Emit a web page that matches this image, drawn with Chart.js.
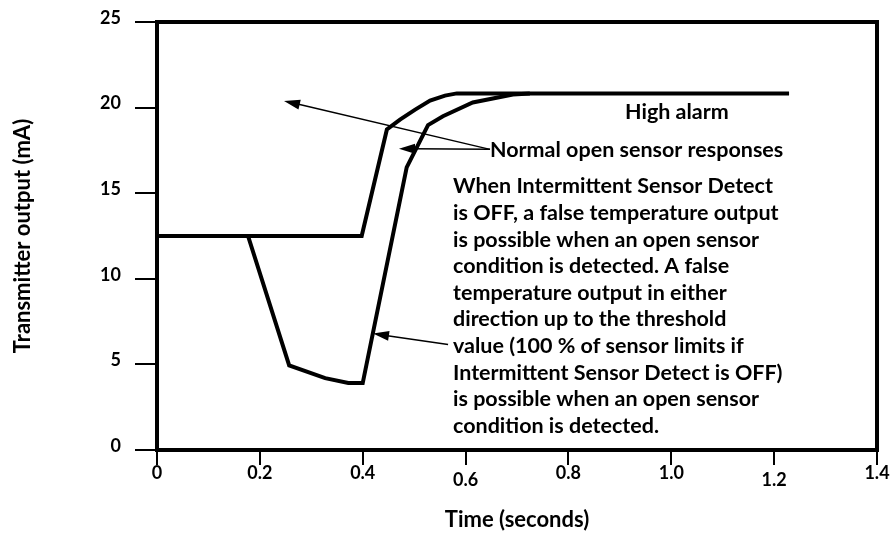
<!DOCTYPE html>
<html>
<head>
<meta charset="utf-8">
<script src="https://cdn.jsdelivr.net/npm/chart.js@4.4.1/dist/chart.umd.min.js"></script>
<style>
  html, body { margin: 0; padding: 0; background: #fff; }
</style>
</head>
<body>
<canvas id="openSensor" width="891" height="533"></canvas>
<script>
// values (time in s, output in mA)
const normalTime   = [0, 0.398, 0.447, 0.4725, 0.502, 0.531, 0.56, 0.583, 1.229];
const normalOutput = [12.5, 12.5, 18.72, 19.3, 19.88, 20.41, 20.7, 20.83, 20.83];

const falseTime   = [0, 0.177, 0.257, 0.327, 0.372, 0.40, 0.4855, 0.527, 0.556, 0.614, 0.692, 0.725];
const falseOutput = [12.5, 12.5, 4.94, 4.2, 3.91, 3.91, 16.51, 18.98, 19.5, 20.3, 20.76, 20.83];

const xTicks = [0, 0.2, 0.4, 0.6, 0.8, 1.0, 1.2, 1.4];
const xTickLabels = ['0', '0.2', '0.4', '0.6', '0.8', '1.0', '1.2', '1.4'];
const yTicks = [0, 5, 10, 15, 20, 25];

const note = [
  'When Intermittent Sensor Detect',
  'is OFF, a false temperature output',
  'is possible when an open sensor',
  'condition is detected. A false',
  'temperature output in either',
  'direction up to the threshold',
  'value (100 % of sensor limits if',
  'Intermittent Sensor Detect is OFF)',
  'is possible when an open sensor',
  'condition is detected.'
];

const toXY = (xs, ys) => xs.map((x, i) => ({ x: x, y: ys[i] }));

const FONT = 'Lato';

function arrow(ctx, x1, y1, x2, y2) {
  const a = Math.atan2(y2 - y1, x2 - x1);
  const len = 16, half = 5;
  ctx.beginPath();
  ctx.moveTo(x1, y1);
  ctx.lineTo(x2 - Math.cos(a) * len * 0.8, y2 - Math.sin(a) * len * 0.8);
  ctx.stroke();
  ctx.beginPath();
  ctx.moveTo(x2, y2);
  ctx.lineTo(x2 - Math.cos(a) * len + Math.sin(a) * half, y2 - Math.sin(a) * len - Math.cos(a) * half);
  ctx.lineTo(x2 - Math.cos(a) * len - Math.sin(a) * half, y2 - Math.sin(a) * len + Math.cos(a) * half);
  ctx.closePath();
  ctx.fill();
}

const extras = {
  id: 'extras',
  afterDatasetsDraw(chart) {
    const ctx = chart.ctx;
    const a = chart.chartArea;
    const sx = chart.scales.x, sy = chart.scales.y;
    const px = v => sx.getPixelForValue(v), py = v => sy.getPixelForValue(v);
    ctx.save();
    // frame top + right
    ctx.strokeStyle = '#000';
    ctx.lineWidth = 4;
    ctx.beginPath();
    ctx.moveTo(a.left - 2, a.top);
    ctx.lineTo(a.right, a.top);
    ctx.lineTo(a.right, a.bottom + 2);
    ctx.stroke();

    // arrows
    ctx.lineWidth = 1.5;
    ctx.fillStyle = '#000';
    arrow(ctx, px(0.6475), py(17.56), px(0.247), py(20.39));
    arrow(ctx, px(0.6475), py(17.56), px(0.4705), py(17.6));
    arrow(ctx, px(0.566), py(6.16), px(0.42), py(6.8));

    // texts
    ctx.font = 'bold 21.5px ' + FONT;
    ctx.textAlign = 'left';
    ctx.textBaseline = 'alphabetic';
    ctx.fillText('High alarm', 625, 119);
    ctx.fillText('Normal open sensor responses', 490, 157);
    note.forEach((t, i) => ctx.fillText(t, 453, 193.3 + i * 26.6));
    ctx.restore();
  }
};

new Chart(document.getElementById('openSensor'), {
  type: 'line',
  data: {
    datasets: [
      { data: toXY(normalTime, normalOutput), borderColor: '#000', borderWidth: 4, pointRadius: 0, tension: 0, borderJoinStyle: 'miter' },
      { data: toXY(falseTime, falseOutput), borderColor: '#000', borderWidth: 4, pointRadius: 0, tension: 0, borderJoinStyle: 'miter' }
    ]
  },
  options: {
    responsive: false,
    animation: false,
    layout: { padding: { top: 20, right: 14, left: 0, bottom: 0 } },
    plugins: { legend: { display: false }, tooltip: { enabled: false } },
    scales: {
      x: {
        type: 'linear', min: 0, max: 1.4,
        afterBuildTicks: s => { s.ticks = xTicks.map(v => ({ value: v })); },
        afterFit: s => { s.height = 83; },
        grid: { drawOnChartArea: false, color: '#000', lineWidth: 2, tickLength: 15 },
        border: { color: '#000', width: 4 },
        ticks: {
          color: '#000', padding: 0, maxRotation: 0, autoSkip: false,
          callback: (v, i) => xTickLabels[i],
          font: c => ({ family: FONT, weight: 'bold', size: 18, lineHeight: (c.index === 3 || c.index === 6) ? '30px' : '17px' })
        },
        title: { display: true, text: 'Time (seconds)', color: '#000', font: { family: FONT, weight: 'bold', size: 22 }, padding: { top: 0, bottom: 0 } }
      },
      y: {
        min: 0, max: 25,
        afterBuildTicks: s => { s.ticks = yTicks.map(v => ({ value: v })); },
        afterFit: s => { s.width = 157; },
        grid: { drawOnChartArea: false, color: '#000', lineWidth: 2, tickLength: 22 },
        border: { color: '#000', width: 4 },
        ticks: {
          color: '#000', padding: 14,
          callback: v => [String(v), ''],
          font: { family: FONT, weight: 'bold', size: 18, lineHeight: '8px' }
        },
        title: { display: true, text: 'Transmitter output (mA)', color: '#000', font: { family: FONT, weight: 'bold', size: 22 }, padding: { top: 10, bottom: 0 } }
      }
    }
  },
  plugins: [extras]
});
</script>
</body>
</html>
